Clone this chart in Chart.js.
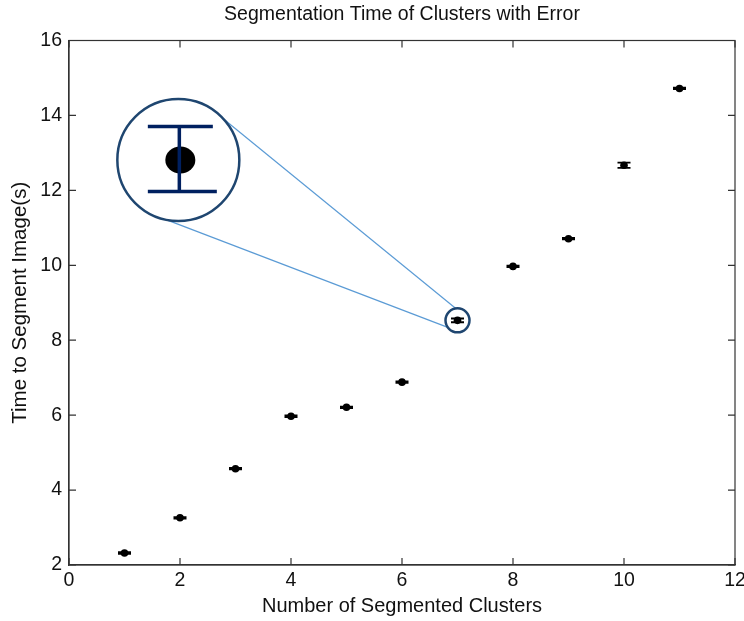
<!DOCTYPE html>
<html>
<head>
<meta charset="utf-8">
<script src="https://cdn.jsdelivr.net/npm/chart.js@4/dist/chart.umd.min.js"></script>
<style>
  html, body { margin: 0; padding: 0; background: #fff; }
  #wrap { width: 744px; height: 621px; }
</style>
</head>
<body>
<div id="wrap"><canvas id="myChart" width="744" height="621"></canvas></div>
<script>
// data
const clusters = [1, 2, 3, 4, 5, 6, 7, 8, 9, 10, 11];
const segTime = [2.32, 3.26, 4.57, 5.97, 6.21, 6.88, 8.53, 9.97, 10.71, 12.67, 14.72];
const segErr = [0.02, 0.02, 0.02, 0.02, 0.02, 0.02, 0.05, 0.02, 0.02, 0.07, 0.02];
const xTicks = [0, 2, 4, 6, 8, 10, 12];
const yTicks = [2, 4, 6, 8, 10, 12, 14, 16];

// the "zoom" callout: which point it points at, where the big lens sits
const lensPoint = 6;
const lensAt = [1.97, 12.81];

const fontFam = "Arial, 'Liberation Sans', sans-serif";

// error bars (caps + stem) drawn from the scales
const errorBars = {
  id: 'errorBars',
  afterDatasetsDraw(chart) {
    const ctx = chart.ctx;
    const x = chart.scales.x, y = chart.scales.y;
    ctx.save();
    ctx.strokeStyle = '#000';
    ctx.lineWidth = 1.8;
    for (let i = 0; i < clusters.length; i++) {
      const px = x.getPixelForValue(clusters[i]);
      const top = y.getPixelForValue(segTime[i] + segErr[i]);
      const bot = y.getPixelForValue(segTime[i] - segErr[i]);
      ctx.beginPath();
      ctx.moveTo(px, top); ctx.lineTo(px, bot);
      ctx.moveTo(px - 6.5, top); ctx.lineTo(px + 6.5, top);
      ctx.moveTo(px - 6.5, bot); ctx.lineTo(px + 6.5, bot);
      ctx.stroke();
    }
    ctx.restore();
  }
};

// matlab style box: top/right edges and ticks pointing inwards
const boxTicks = {
  id: 'boxTicks',
  afterDraw(chart) {
    const ctx = chart.ctx;
    const a = chart.chartArea;
    const x = chart.scales.x, y = chart.scales.y;
    ctx.save();
    ctx.strokeStyle = '#333';
    ctx.lineWidth = 1.2;
    ctx.strokeRect(a.left, a.top, a.right - a.left, a.bottom - a.top);
    ctx.beginPath();
    xTicks.forEach(v => {
      const p = x.getPixelForValue(v);
      ctx.moveTo(p, a.bottom); ctx.lineTo(p, a.bottom - 7);
      ctx.moveTo(p, a.top); ctx.lineTo(p, a.top + 7);
    });
    yTicks.forEach(v => {
      const p = y.getPixelForValue(v);
      ctx.moveTo(a.left, p); ctx.lineTo(a.left + 7, p);
      ctx.moveTo(a.right, p); ctx.lineTo(a.right - 7, p);
    });
    ctx.stroke();
    ctx.restore();
  }
};

function onCircle(cx, cy, r, deg) {
  const t = deg * Math.PI / 180;
  return [cx + r * Math.cos(t), cy + r * Math.sin(t)];
}

const magnifier = {
  id: 'magnifier',
  afterDraw(chart) {
    const ctx = chart.ctx;
    const x = chart.scales.x, y = chart.scales.y;
    const bx = x.getPixelForValue(lensAt[0]), by = y.getPixelForValue(lensAt[1]);
    const sx = x.getPixelForValue(clusters[lensPoint]), sy = y.getPixelForValue(segTime[lensPoint]);
    const bigR = 61, smallR = 12;
    ctx.save();
    // connecting lines
    ctx.strokeStyle = '#5b9bd5';
    ctx.lineWidth = 1.2;
    [[-42.6, -98], [101, 144]].forEach(pair => {
      const p1 = onCircle(bx, by, bigR, pair[0]);
      const p2 = onCircle(sx, sy, smallR, pair[1]);
      ctx.beginPath(); ctx.moveTo(p1[0], p1[1]); ctx.lineTo(p2[0], p2[1]); ctx.stroke();
    });
    // circles
    ctx.strokeStyle = '#1f4670';
    ctx.lineWidth = 2.5;
    ctx.fillStyle = '#fff';
    ctx.beginPath(); ctx.arc(bx, by, bigR, 0, Math.PI * 2); ctx.fill(); ctx.stroke();
    ctx.beginPath(); ctx.arc(sx, sy, smallR, 0, Math.PI * 2); ctx.stroke();
    // blown up error bar
    ctx.fillStyle = '#000';
    ctx.beginPath(); ctx.ellipse(bx + 2, by, 15, 13.5, 0, 0, Math.PI * 2); ctx.fill();
    ctx.strokeStyle = '#002060';
    ctx.lineWidth = 3.5;
    ctx.beginPath();
    ctx.moveTo(bx + 1, by - 33.5); ctx.lineTo(bx + 1, by + 31.5);
    ctx.moveTo(bx - 30.5, by - 33.5); ctx.lineTo(bx + 34.5, by - 33.5);
    ctx.moveTo(bx - 30.5, by + 31.5); ctx.lineTo(bx + 38.5, by + 31.5);
    ctx.stroke();
    ctx.restore();
  }
};

var ctx = document.getElementById("myChart").getContext('2d');

var myChart = new Chart(ctx, {
  type: 'scatter',
  data: {
    datasets: [{
      label: 'Segmentation time',
      data: clusters.map((c, i) => ({x: c, y: segTime[i]})),
      backgroundColor: '#000',
      borderColor: '#000',
      pointRadius: 3.8,
      pointHoverRadius: 3.8,
      borderWidth: 0
    }]
  },
  options: {
    responsive: false,
    animation: false,
    layout: { padding: { left: 0, right: 9, top: 0, bottom: 0 } },
    plugins: {
      legend: { display: false },
      tooltip: { enabled: false },
      title: {
        display: true,
        text: 'Segmentation Time of Clusters with Error',
        fullSize: false,
        color: '#111',
        font: { family: fontFam, size: 19.5, weight: 'normal' },
        padding: { top: 2.5, bottom: 14.6 }
      }
    },
    scales: {
      x: {
        type: 'linear',
        min: 0, max: 12,
        afterBuildTicks: s => { s.ticks = xTicks.map(v => ({value: v})); },
        afterFit: s => { s.height = 56; s.paddingRight = 0; },
        grid: { display: false, drawTicks: false },
        border: { display: true, color: '#333', width: 1.2 },
        ticks: { color: '#111', padding: 4, maxRotation: 0, font: { family: fontFam, size: 19.5 } },
        title: {
          display: true,
          text: 'Number of Segmented Clusters',
          color: '#111',
          font: { family: fontFam, size: 20 },
          padding: { top: 0, bottom: 3 }
        }
      },
      y: {
        type: 'linear',
        min: 2, max: 16,
        afterBuildTicks: s => { s.ticks = yTicks.map(v => ({value: v})); },
        afterFit: s => { s.width = 69; },
        grid: { display: false, drawTicks: false },
        border: { display: true, color: '#333', width: 1.2 },
        ticks: { color: '#111', padding: 7, font: { family: fontFam, size: 19.5 } },
        title: {
          display: true,
          text: 'Time to Segment Image(s)',
          color: '#111',
          font: { family: fontFam, size: 20.5 },
          padding: { top: 8, bottom: 0 }
        }
      }
    }
  },
  plugins: [errorBars, boxTicks, magnifier]
});
</script>
</body>
</html>
